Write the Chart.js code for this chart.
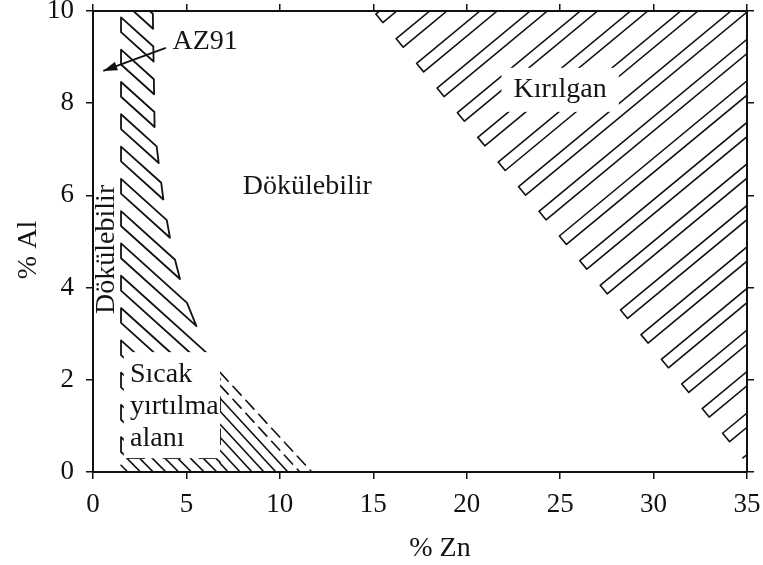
<!DOCTYPE html>
<html>
<head>
<meta charset="utf-8">
<script src="https://cdn.jsdelivr.net/npm/chart.js@4.4.1/dist/chart.umd.min.js"></script>
<style>
  html, body { margin: 0; padding: 0; background: #fff; }
  #wrap { width: 763px; height: 565px; }
</style>
</head>
<body>
<div id="wrap"><canvas id="c" width="763" height="565"></canvas></div>
<script>
// Tick values
const znTicks = [0, 5, 10, 15, 20, 25, 30, 35];
const alTicks = [0, 2, 4, 6, 8, 10];

// Region boundaries (% Zn, % Al)
const brittleZn = [15, 35, 35];
const brittleAl = [10, 10, 0.2];

const castBandZn = [1.5, 1.5, 3.2, 3.3, 3.8, 4.2, 4.9, 5.7, 6.4, 6.8, 6.8];
const castBandAl = [0.3, 10, 10, 7.4, 5.8, 4.9, 3.8, 3.0, 2.4, 2.2, 0.3];

const tearWedgeZn = [6.8, 11.8, 6.8];
const tearWedgeAl = [2.2, 0, 0];

const baseStripZn = [1.5, 1.5, 6.8, 6.8];
const baseStripAl = [0, 0.3, 0.3, 0];

// Hot tearing label area (corners)
const hotTearBoxZn = [1.65, 6.8];
const hotTearBoxAl = [0.3, 2.6];

// AZ91 pointer (tail -> tip)
const az91Zn = [3.9, 0.55];
const az91Al = [9.2, 8.7];

const SERIF = "'Liberation Serif', 'Times New Roman', serif";

function toPoints(xs, ys) {
  return xs.map((x, i) => ({ x: x, y: ys[i] }));
}

// Fill a pixel polygon with parallel strokes; strokes may be paired into thin loops
function hatchRegion(ctx, pts, h) {
  let ang = h.angle;
  if (h.perpToEdge) {
    const p = pts[h.perpToEdge[0]], q = pts[h.perpToEdge[1]];
    ang = Math.atan2(q.y - p.y, q.x - p.x) * 180 / Math.PI - 90;
  }
  if (h.alongEdge) {
    const p = pts[h.alongEdge[0]], q = pts[h.alongEdge[1]];
    ang = Math.atan2(q.y - p.y, q.x - p.x) * 180 / Math.PI;
  }
  const a = ang * Math.PI / 180;
  const d = { x: Math.cos(a), y: Math.sin(a) };
  const n = { x: -d.y, y: d.x };
  const proj = pts.map(p => p.x * n.x + p.y * n.y);
  const sMin = Math.min(...proj), sMax = Math.max(...proj);
  const pt = (s, t) => ({ x: s * n.x + t * d.x, y: s * n.y + t * d.y });

  function chord(s) {
    const ts = [];
    for (let i = 0; i < pts.length; i++) {
      const j = (i + 1) % pts.length;
      const sp = proj[i], sq = proj[j];
      if ((sp - s) * (sq - s) < 0) {
        const u = (s - sp) / (sq - sp);
        const x = pts[i].x + u * (pts[j].x - pts[i].x);
        const y = pts[i].y + u * (pts[j].y - pts[i].y);
        ts.push(x * d.x + y * d.y);
      }
    }
    if (ts.length < 2) return null;
    ts.sort((m, k) => m - k);
    return [ts[0], ts[ts.length - 1]];
  }

  ctx.save();
  ctx.strokeStyle = '#111';
  ctx.lineWidth = h.lineWidth || 1.6;
  ctx.lineJoin = 'round';
  ctx.lineCap = 'round';
  let idx = 0;
  for (let s = sMin + (h.offset || 0); s < sMax; s += h.period, idx++) {
    const c1 = chord(s);
    if (h.dashCount && idx < h.dashCount) ctx.setLineDash(h.dash); else ctx.setLineDash([]);
    if (!h.loopWidth) {
      if (!c1) continue;
      const A0 = pt(s, c1[0]), A1 = pt(s, c1[1]);
      ctx.beginPath(); ctx.moveTo(A0.x, A0.y); ctx.lineTo(A1.x, A1.y); ctx.stroke();
      continue;
    }
    const c2 = chord(s + h.loopWidth);
    if (c1 && c2) {
      const A0 = pt(s, c1[0]), A1 = pt(s, c1[1]);
      const B0 = pt(s + h.loopWidth, c2[0]), B1 = pt(s + h.loopWidth, c2[1]);
      ctx.beginPath();
      if (h.closeOuter) {
        ctx.moveTo(A0.x, A0.y); ctx.lineTo(A1.x, A1.y); ctx.lineTo(B1.x, B1.y);
        ctx.lineTo(B0.x, B0.y); ctx.closePath();
      } else {
        ctx.moveTo(A1.x, A1.y); ctx.lineTo(A0.x, A0.y); ctx.lineTo(B0.x, B0.y); ctx.lineTo(B1.x, B1.y);
      }
      ctx.stroke();
    } else {
      const c = c1 || c2;
      if (!c) continue;
      const ss = c1 ? s : s + h.loopWidth;
      const A0 = pt(ss, c[0]), A1 = pt(ss, c[1]);
      ctx.beginPath(); ctx.moveTo(A0.x, A0.y); ctx.lineTo(A1.x, A1.y); ctx.stroke();
    }
  }
  ctx.restore();
}

const diagramPlugin = {
  id: 'diagram',
  beforeDatasetsDraw(chart, args, opts) {
    const ctx = chart.ctx, area = chart.chartArea;
    const xs = chart.scales.x, ys = chart.scales.y;
    ctx.save();
    ctx.beginPath();
    ctx.rect(area.left, area.top, area.right - area.left, area.bottom - area.top);
    ctx.clip();
    chart.data.datasets.forEach((ds, i) => {
      if (!ds.hatch) return;
      const pts = chart.getDatasetMeta(i).data.map(el => ({ x: el.x, y: el.y }));
      hatchRegion(ctx, pts, ds.hatch);
    });
    // cleared area behind the hot-tearing label
    const bx0 = xs.getPixelForValue(hotTearBoxZn[0]), bx1 = xs.getPixelForValue(hotTearBoxZn[1]);
    const by0 = ys.getPixelForValue(hotTearBoxAl[0]), by1 = ys.getPixelForValue(hotTearBoxAl[1]);
    ctx.fillStyle = '#fff';
    ctx.fillRect(bx0, by1, bx1 - bx0, by0 - by1);
    ctx.restore();
  },
  afterDatasetsDraw(chart, args, opts) {
    const ctx = chart.ctx;
    const xs = chart.scales.x, ys = chart.scales.y;
    // arrow head of the AZ91 pointer
    const tx = xs.getPixelForValue(az91Zn[1]), ty = ys.getPixelForValue(az91Al[1]);
    const sx = xs.getPixelForValue(az91Zn[0]), sy = ys.getPixelForValue(az91Al[0]);
    const ang = Math.atan2(ty - sy, tx - sx);
    ctx.save();
    ctx.fillStyle = '#111';
    ctx.beginPath();
    ctx.moveTo(tx, ty);
    ctx.lineTo(tx - 14 * Math.cos(ang) + 4.5 * Math.sin(ang), ty - 14 * Math.sin(ang) - 4.5 * Math.cos(ang));
    ctx.lineTo(tx - 14 * Math.cos(ang) - 4.5 * Math.sin(ang), ty - 14 * Math.sin(ang) + 4.5 * Math.cos(ang));
    ctx.closePath();
    ctx.fill();
    ctx.restore();

    // region labels
    ctx.save();
    ctx.font = opts.font;
    ctx.textBaseline = 'middle';
    opts.labels.forEach(l => {
      const px = xs.getPixelForValue(l.zn), py = ys.getPixelForValue(l.al);
      ctx.save();
      ctx.translate(px, py);
      if (l.rotate) ctx.rotate(l.rotate * Math.PI / 180);
      ctx.textAlign = l.align || 'center';
      const w = ctx.measureText(l.text).width;
      if (l.clear) {
        ctx.fillStyle = '#fff';
        ctx.fillRect(-w / 2 - 12, -22, w + 24, 44);
      }
      ctx.fillStyle = '#141414';
      ctx.fillText(l.text, 0, 0);
      ctx.restore();
    });
    // axis titles
    opts.titles.forEach(t => {
      ctx.save();
      ctx.translate(t.x, t.y);
      if (t.rotate) ctx.rotate(t.rotate * Math.PI / 180);
      ctx.textAlign = 'center';
      ctx.fillStyle = '#141414';
      ctx.fillText(t.text, 0, 0);
      ctx.restore();
    });
    ctx.restore();
  }
};

const tickFont = { family: SERIF, size: 27 };
const axisCommon = {
  type: 'linear',
  grid: { drawOnChartArea: false, color: '#111', tickColor: '#111', tickLength: 7, lineWidth: 1.5 },
  border: { display: true, color: '#111', width: 2 }
};
// keep the plot frame fixed regardless of label overhang
function noOverhang(s) {
  s.paddingTop = 0; s.paddingBottom = 0; s.paddingLeft = 0; s.paddingRight = 0;
}

new Chart(document.getElementById('c'), {
  type: 'scatter',
  data: {
    datasets: [
      {
        label: 'Kırılgan',
        data: toPoints(brittleZn, brittleAl),
        pointRadius: 0, showLine: false,
        hatch: { perpToEdge: [0, 2], period: 32, loopWidth: 11, offset: 4, closeOuter: false, lineWidth: 1.6 }
      },
      {
        label: 'Dökülebilir bant',
        data: toPoints(castBandZn, castBandAl),
        pointRadius: 0, showLine: false,
        hatch: { angle: 42, period: 24, loopWidth: 11, offset: 2, closeOuter: true, lineWidth: 1.8 }
      },
      {
        label: 'Sıcak yırtılma kama',
        data: toPoints(tearWedgeZn, tearWedgeAl),
        pointRadius: 0, showLine: false,
        hatch: { alongEdge: [0, 1], period: 8.8, offset: 1.2, dashCount: 2, dash: [12, 7], lineWidth: 1.6 }
      },
      {
        label: 'Taban',
        data: toPoints(baseStripZn, baseStripAl),
        pointRadius: 0, showLine: false,
        hatch: { angle: 45, period: 9, offset: 3, lineWidth: 1.6 }
      },
      {
        label: 'AZ91',
        data: toPoints(az91Zn, az91Al),
        pointRadius: 0, showLine: true,
        borderColor: '#111', borderWidth: 1.8
      }
    ]
  },
  options: {
    responsive: false,
    animation: false,
    devicePixelRatio: 1,
    layout: { padding: 0 },
    plugins: {
      legend: { display: false },
      tooltip: { enabled: false },
      diagram: {
        font: '28px ' + SERIF,
        labels: [
          { text: 'AZ91', zn: 4.25, al: 9.33, align: 'left' },
          { text: 'Dökülebilir', zn: 11.47, al: 6.18 },
          { text: 'Kırılgan', zn: 25.0, al: 8.29, clear: true },
          { text: 'Dökülebilir', zn: 0.72, al: 4.83, rotate: -90 },
          { text: 'Sıcak', zn: 1.98, al: 2.11, align: 'left' },
          { text: 'yırtılma', zn: 1.98, al: 1.42, align: 'left' },
          { text: 'alanı', zn: 1.98, al: 0.72, align: 'left' }
        ],
        titles: [
          { text: '% Zn', x: 440, y: 549 },
          { text: '% Al', x: 29, y: 250, rotate: -90 }
        ]
      }
    },
    scales: {
      x: Object.assign({}, axisCommon, {
        position: 'bottom', min: 0, max: 35,
        afterBuildTicks: s => { s.ticks = znTicks.map(v => ({ value: v })); },
        ticks: { font: tickFont, color: '#111', padding: 10, maxRotation: 0, autoSkip: false },
        afterFit: s => { s.height = 93; noOverhang(s); }
      }),
      xTop: Object.assign({}, axisCommon, {
        axis: 'x', position: 'top', min: 0, max: 35,
        afterBuildTicks: s => { s.ticks = znTicks.map(v => ({ value: v })); },
        ticks: { display: false },
        afterFit: s => { s.height = 11; noOverhang(s); }
      }),
      y: Object.assign({}, axisCommon, {
        position: 'left', min: 0, max: 10,
        afterBuildTicks: s => { s.ticks = alTicks.map(v => ({ value: v })); },
        ticks: { font: tickFont, color: '#111', padding: 12, autoSkip: false },
        afterFit: s => { s.width = 93; noOverhang(s); }
      }),
      yRight: Object.assign({}, axisCommon, {
        axis: 'y', position: 'right', min: 0, max: 10,
        afterBuildTicks: s => { s.ticks = alTicks.map(v => ({ value: v })); },
        ticks: { display: false },
        afterFit: s => { s.width = 16; noOverhang(s); }
      })
    }
  },
  plugins: [diagramPlugin]
});
</script>
</body>
</html>
